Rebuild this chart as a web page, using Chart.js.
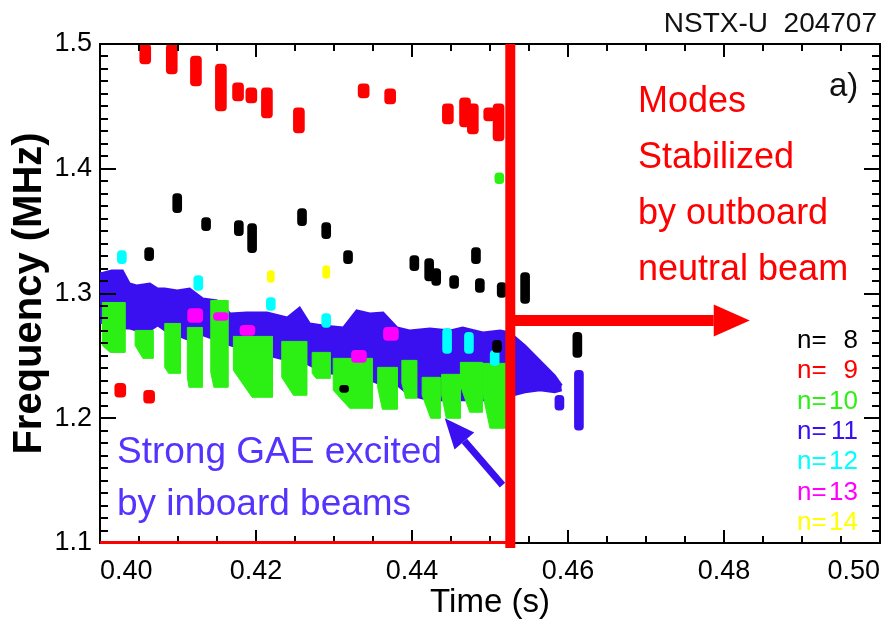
<!DOCTYPE html>
<html>
<head>
  <title>NSTX-U 204707</title>
  <meta charset="utf-8">
  <script src="https://cdn.jsdelivr.net/npm/chart.js"></script>
  <style>
    body {
      margin: 0;
      padding: 0;
      background: #fff;
    }
  </style>
</head>
<body>

  <canvas id="myChart" width="893" height="628"></canvas>

  <script>
    // mode blobs: time (s), lower and upper frequency (MHz)
    const redT  = [0.4058, 0.4092, 0.4123, 0.4155, 0.4177, 0.4194, 0.4214, 0.4255, 0.4338, 0.4372, 0.4446, 0.4468, 0.4478, 0.4499, 0.4511, 0.4026, 0.4063];
    const redLo = [1.4840, 1.4760, 1.4664, 1.4464, 1.4544, 1.4528, 1.4408, 1.4288, 1.4568, 1.4520, 1.4360, 1.4336, 1.4280, 1.4384, 1.4224, 1.2168, 1.2120];
    const redHi = [1.5000, 1.5000, 1.4904, 1.4840, 1.4688, 1.4648, 1.4648, 1.4488, 1.4680, 1.4640, 1.4520, 1.4568, 1.4520, 1.4488, 1.4520, 1.2280, 1.2224];

    const blackT  = [0.4063, 0.4099, 0.4136, 0.4178, 0.4195, 0.4259, 0.4290, 0.4318, 0.4313, 0.4403, 0.4422, 0.4431, 0.4454, 0.4482, 0.4487, 0.4509, 0.4515, 0.4545, 0.4612];
    const blackLo = [1.3264, 1.3648, 1.3504, 1.3464, 1.3328, 1.3544, 1.3440, 1.3240, 1.2208, 1.3184, 1.3100, 1.3064, 1.3040, 1.3240, 1.3008, 1.2528, 1.2968, 1.2920, 1.2488];
    const blackHi = [1.3368, 1.3800, 1.3608, 1.3584, 1.3560, 1.3680, 1.3568, 1.3344, 1.2264, 1.3304, 1.3280, 1.3200, 1.3144, 1.3368, 1.3120, 1.2624, 1.3088, 1.3168, 1.2688];

    const cyanT  = [0.4028, 0.4126, 0.4219, 0.4290, 0.4445, 0.4473, 0.4506];
    const cyanLo = [1.3240, 1.3024, 1.2864, 1.2728, 1.2520, 1.2520, 1.2424];
    const cyanHi = [1.3344, 1.3144, 1.2968, 1.2840, 1.2720, 1.2688, 1.2544];

    const magT  = [0.4122, 0.4155, 0.4189, 0.4332, 0.4373];
    const magLo = [1.2768, 1.2784, 1.2664, 1.2448, 1.2624];
    const magHi = [1.2880, 1.2848, 1.2744, 1.2544, 1.2728];

    const yelT  = [0.4219, 0.4290];
    const yelLo = [1.3088, 1.3120];
    const yelHi = [1.3184, 1.3224];

    const greenDotT  = [0.4512];
    const greenDotLo = [1.3880];
    const greenDotHi = [1.3968];

    const blueDotT  = [0.4589, 0.4614];
    const blueDotLo = [1.2064, 1.1904];
    const blueDotHi = [1.2184, 1.2384];

    // n=11 band, upper / lower edge
    const blueT  = [0.4000, 0.4015, 0.4029, 0.4038, 0.4047, 0.4064, 0.4074, 0.4083, 0.4099, 0.4115, 0.4132, 0.4150, 0.4167, 0.4188, 0.4214, 0.4240, 0.4256, 0.4269, 0.4286, 0.4312, 0.4329, 0.4346, 0.4363, 0.4381, 0.4397, 0.4423, 0.4449, 0.4465, 0.4491, 0.4513, 0.4526];
    const blueHi = [1.3160, 1.3184, 1.3184, 1.3080, 1.3064, 1.3080, 1.3040, 1.3040, 1.3024, 1.3040, 1.2960, 1.2944, 1.2840, 1.2848, 1.2848, 1.2808, 1.2888, 1.2760, 1.2744, 1.2728, 1.2864, 1.2840, 1.2848, 1.2728, 1.2704, 1.2720, 1.2704, 1.2728, 1.2688, 1.2704, 1.2688];
    const blueLo = [1.2768, 1.2744, 1.2720, 1.2720, 1.2704, 1.2704, 1.2744, 1.2704, 1.2664, 1.2624, 1.2664, 1.2624, 1.2584, 1.2544, 1.2504, 1.2464, 1.2464, 1.2424, 1.2368, 1.2344, 1.2304, 1.2304, 1.2264, 1.2264, 1.2184, 1.2144, 1.2144, 1.2144, 1.2144, 1.2144, 1.2144];

    const tailT  = [0.4526, 0.4530, 0.4545, 0.4564, 0.4583, 0.4592];
    const tailHi = [1.2688, 1.2664, 1.2584, 1.2464, 1.2344, 1.2264];
    const tailLo = [1.2144, 1.2184, 1.2208, 1.2224, 1.2208, 1.2224];

    // n=10 chirps: start, end, start of narrow tail (s); top, left-edge bottom, tail bottom (MHz)
    const gStart   = [0.4003, 0.4045, 0.4083, 0.4112, 0.4142, 0.4171, 0.4233, 0.4272, 0.4299, 0.4356, 0.4387, 0.4413, 0.4438, 0.4462, 0.4491];
    const gEnd     = [0.4032, 0.4068, 0.4103, 0.4131, 0.4164, 0.4221, 0.4265, 0.4295, 0.4349, 0.4381, 0.4406, 0.4436, 0.4462, 0.4490, 0.4522];
    const gTail    = [0.4013, 0.4055, 0.4088, 0.4114, 0.4146, 0.4195, 0.4248, 0.4277, 0.4320, 0.4362, 0.4392, 0.4424, 0.4444, 0.4474, 0.4500];
    const gTop     = [1.2928, 1.2704, 1.2760, 1.2728, 1.2944, 1.2656, 1.2616, 1.2528, 1.2480, 1.2408, 1.2464, 1.2328, 1.2352, 1.2448, 1.2440];
    const gLeftBot = [1.2584, 1.2584, 1.2408, 1.2328, 1.2368, 1.2384, 1.2328, 1.2360, 1.2224, 1.2248, 1.2280, 1.2184, 1.2184, 1.2264, 1.2184];
    const gBot     = [1.2528, 1.2480, 1.2360, 1.2248, 1.2248, 1.2168, 1.2184, 1.2320, 1.2080, 1.2072, 1.2160, 1.2000, 1.2000, 1.2048, 1.1920];

    const modeLabels = ['n= 8', 'n= 9', 'n=10', 'n=11', 'n=12', 'n=13', 'n=14'];
    const modeColors = ['#000000', '#ff0000', '#2cf014', '#3a10f0', '#00ffff', '#ff00ff', '#ffff00'];

    const cutTime = 0.4526;   // outboard beam on
    const arrowF = 1.2784;
    const arrowEndT = 0.4833;

    const FONT = "'Liberation Sans', Arial, sans-serif";
    const RED = '#ff0000', BLACK = '#000000', GREEN = modeColors[2], BLUE = modeColors[3];

    function blobs(t, lo, hi, color, width) {
      return {
        type: 'bar',
        data: t.map((x, i) => ({ x: x, y: [lo[i], hi[i]] })),
        backgroundColor: color,
        barThickness: width,
        borderRadius: 4,
        borderSkipped: false,
        grouped: false,
        order: 1
      };
    }

    const datasets = [];
    datasets.push({
      type: 'line', data: blueT.map((x, i) => ({ x: x, y: blueHi[i] })),
      borderColor: BLUE, backgroundColor: BLUE, borderWidth: 2, pointRadius: 0, tension: 0, fill: '+1', order: 10
    });
    datasets.push({
      type: 'line', data: blueT.map((x, i) => ({ x: x, y: blueLo[i] })),
      borderColor: BLUE, borderWidth: 2, pointRadius: 0, tension: 0, fill: false, order: 10
    });
    datasets.push({
      type: 'line', data: tailT.map((x, i) => ({ x: x, y: tailHi[i] })),
      borderColor: BLUE, backgroundColor: BLUE, borderWidth: 2, pointRadius: 0, tension: 0, fill: '+1', order: 10
    });
    datasets.push({
      type: 'line', data: tailT.map((x, i) => ({ x: x, y: tailLo[i] })),
      borderColor: BLUE, borderWidth: 2, pointRadius: 0, tension: 0, fill: false, order: 10
    });
    gStart.forEach((t0, i) => {
      datasets.push({
        type: 'line',
        data: [
          { x: t0, y: gTop[i] }, { x: gEnd[i], y: gTop[i] }, { x: gEnd[i], y: gBot[i] },
          { x: gTail[i], y: gBot[i] }, { x: t0, y: gLeftBot[i] }, { x: t0, y: gTop[i] }
        ],
        borderColor: GREEN, backgroundColor: GREEN, borderWidth: 1, pointRadius: 0, tension: 0,
        fill: 'shape', order: 5
      });
    });
    datasets.push(blobs(blueDotT, blueDotLo, blueDotHi, BLUE, 9));
    datasets.push(blobs(greenDotT, greenDotLo, greenDotHi, GREEN, 9));
    datasets.push(blobs(redT, redLo, redHi, RED, 11));
    datasets.push(blobs(blackT, blackLo, blackHi, BLACK, 9));
    datasets.push(blobs(cyanT, cyanLo, cyanHi, modeColors[4], 9));
    datasets.push(blobs(magT, magLo, magHi, modeColors[5], 15));
    datasets.push(blobs(yelT, yelLo, yelHi, modeColors[6], 7));

    function isMajor(v, per) {
      return Math.abs(v * per - Math.round(v * per)) < 1e-6;
    }

    function arrow(ctx, x0, y0, x1, y1, width, headLen, headHalf, color) {
      const ang = Math.atan2(y1 - y0, x1 - x0);
      const bx = x1 - headLen * Math.cos(ang), by = y1 - headLen * Math.sin(ang);
      ctx.strokeStyle = color;
      ctx.fillStyle = color;
      ctx.lineWidth = width;
      ctx.lineCap = 'butt';
      ctx.beginPath();
      ctx.moveTo(x0, y0);
      ctx.lineTo(bx, by);
      ctx.stroke();
      ctx.beginPath();
      ctx.moveTo(x1, y1);
      ctx.lineTo(bx + headHalf * Math.sin(ang), by - headHalf * Math.cos(ang));
      ctx.lineTo(bx - headHalf * Math.sin(ang), by + headHalf * Math.cos(ang));
      ctx.closePath();
      ctx.fill();
    }

    const framePlugin = {
      id: 'frame',
      afterDatasetsDraw(chart) {
        const { ctx, chartArea: a, scales: { x, y } } = chart;
        ctx.save();

        // box and inward ticks
        ctx.strokeStyle = '#000';
        ctx.lineWidth = 2;
        ctx.beginPath();
        ctx.moveTo(a.left, a.top);
        ctx.lineTo(a.right, a.top);
        ctx.lineTo(a.right, a.bottom);
        x.ticks.forEach(t => {
          const px = Math.round(x.getPixelForValue(t.value));
          const len = isMajor(t.value, 50) ? 13 : 7;
          ctx.moveTo(px, a.bottom); ctx.lineTo(px, a.bottom - len);
          ctx.moveTo(px, a.top); ctx.lineTo(px, a.top + len);
        });
        y.ticks.forEach(t => {
          const py = Math.round(y.getPixelForValue(t.value));
          const len = isMajor(t.value, 10) ? 16 : 8;
          ctx.moveTo(a.left, py); ctx.lineTo(a.left + len, py);
          ctx.moveTo(a.right, py); ctx.lineTo(a.right - len, py);
        });
        ctx.stroke();

        // outboard beam switch-on
        const cx = x.getPixelForValue(cutTime);
        ctx.fillStyle = RED;
        ctx.fillRect(a.left, a.bottom - 2, cx - a.left, 3);
        ctx.fillRect(cx - 5, a.top, 10, a.bottom - a.top + 5);
        const ay = y.getPixelForValue(arrowF);
        arrow(ctx, cx, ay, x.getPixelForValue(arrowEndT), ay, 11, 36, 16, RED);

        // arrow to the GAE band
        arrow(ctx, x.getPixelForValue(0.4516), y.getPixelForValue(1.1464),
              x.getPixelForValue(0.4442), y.getPixelForValue(1.2000), 7, 30, 13, BLUE);
        ctx.restore();
      },
      afterDraw(chart) {
        const { ctx } = chart;
        ctx.save();
        ctx.textBaseline = 'alphabetic';

        ctx.fillStyle = '#111';
        ctx.textAlign = 'right';
        ctx.font = '28px ' + FONT;
        ctx.fillText('NSTX-U  204707', 877, 32);
        ctx.textAlign = 'left';
        ctx.font = '33px ' + FONT;
        ctx.fillText('a)', 829, 96);

        ctx.fillStyle = RED;
        ctx.font = '36px ' + FONT;
        ['Modes', 'Stabilized', 'by outboard', 'neutral beam'].forEach((s, i) => {
          ctx.fillText(s, 638, 112 + i * 56);
        });

        ctx.fillStyle = '#5533ff';
        ctx.font = '37px ' + FONT;
        ctx.fillText('Strong GAE excited', 117, 463);
        ctx.fillText('by inboard beams', 117, 515);

        ctx.font = '26px ' + FONT;
        modeLabels.forEach((s, i) => {
          const k = s.indexOf('=') + 1;
          const yy = 348 + i * 30.3;
          ctx.fillStyle = modeColors[i];
          ctx.textAlign = 'left';
          ctx.fillText(s.slice(0, k), 797, yy);
          ctx.textAlign = 'right';
          ctx.fillText(s.slice(k).trim(), 858, yy);
        });
        ctx.restore();
      }
    };

    const ctx = document.getElementById('myChart').getContext('2d');
    const chart = new Chart(ctx, {
      type: 'bar',
      data: { datasets: datasets },
      options: {
        responsive: false,
        animation: false,
        layout: { padding: { top: 44, right: 13, left: 0, bottom: 0 } },
        plugins: {
          legend: { display: false },
          tooltip: { enabled: false }
        },
        scales: {
          x: {
            type: 'linear',
            min: 0.40,
            max: 0.50,
            offset: false,
            afterFit: s => { s.height = 85; s.paddingLeft = 0; s.paddingRight = 0; },
            grid: { display: true, drawOnChartArea: false, drawTicks: false, offset: false },
            border: { display: true, color: '#000', width: 2 },
            ticks: {
              stepSize: 0.005,
              autoSkip: false,
              maxRotation: 0,
              align: 'inner',
              padding: 12,
              color: '#000',
              font: { family: FONT, size: 27 },
              callback: v => isMajor(v, 50) ? v.toFixed(2) : ''
            },
            title: {
              display: true,
              text: 'Time (s)',
              color: '#000',
              font: { family: FONT, size: 33 },
              padding: { top: 0, bottom: 5 }
            }
          },
          y: {
            type: 'linear',
            min: 1.1,
            max: 1.5,
            afterFit: s => { s.width = 100; },
            grid: { display: true, drawOnChartArea: false, drawTicks: false },
            border: { display: true, color: '#000', width: 2 },
            ticks: {
              stepSize: 0.01,
              autoSkip: false,
              padding: 8,
              color: '#000',
              font: { family: FONT, size: 27 },
              callback: v => isMajor(v, 10) ? v.toFixed(1) : ''
            },
            title: {
              display: true,
              text: 'Frequency (MHz)',
              color: '#000',
              font: { family: FONT, size: 40, weight: 'bold' },
              padding: { top: 6, bottom: 0 }
            }
          }
        }
      },
      plugins: [framePlugin]
    });
  </script>

</body>
</html>
